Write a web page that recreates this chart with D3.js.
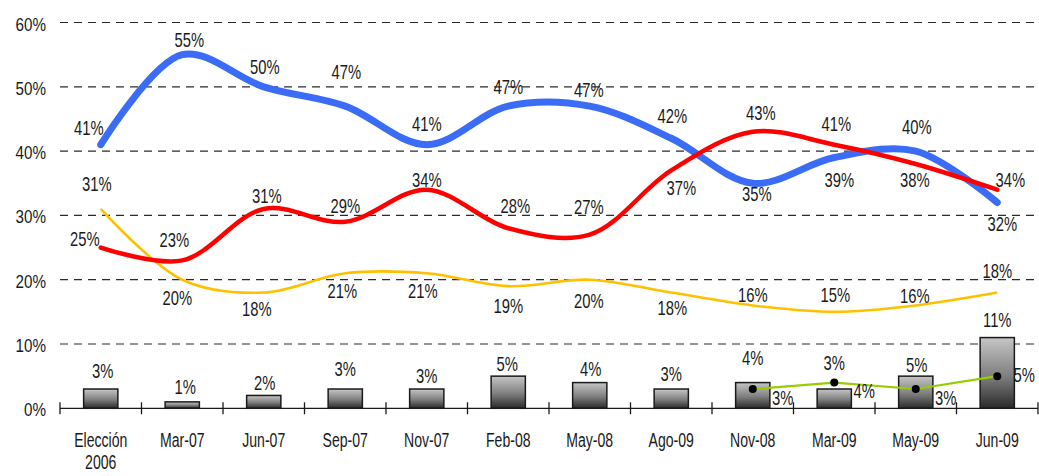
<!DOCTYPE html>
<html>
<head>
<meta charset="utf-8">
<script src="https://cdn.jsdelivr.net/npm/d3@7"></script>
<style>
  html, body { margin: 0; padding: 0; background: #fff; overflow: hidden; }
  text { font-family: "Liberation Sans", Arial, sans-serif; fill: #1a1a1a; }
</style>
</head>
<body>
<svg id="chart" width="1039" height="476"></svg>
<script>
// ---- data ----
const categories = ["Elección 2006", "Mar-07", "Jun-07", "Sep-07", "Nov-07", "Feb-08",
                    "May-08", "Ago-09", "Nov-08", "Mar-09", "May-09", "Jun-09"];
const blueValues   = [41, 55, 50, 47, 41, 47, 47, 42, 35, 39, 40, 32];
const redValues    = [25, 23, 31, 29, 34, 28, 27, 37, 43, 41, 38, 34];
const yellowValues = [31, 20, 18, 21, 21, 19, 20, 18, 16, 15, 16, 18];
const barValues    = [3, 1, 2, 3, 3, 5, 4, 3, 4, 3, 5, 11];
const greenValues  = [null, null, null, null, null, null, null, null, 3, 4, 3, 5];
const yTickValues  = [0, 10, 20, 30, 40, 50, 60];

// ---- label placement (offset of each value label from its point, px) ----
const blueLabelOffsets = [[-12,-17],[7,-15],[1,-20],[1,-34],[0,-21],[0,-19],[-1,-16],[1,-22],[4,11],[5,22],[1,-24],[5,21]];
const redLabelOffsets  = [[-16,-9],[-8,-21],[3,-13],[0,-16],[0,-10],[7,-22],[-1,-28],[10,17],[8,-19],[2,-21],[-1,16],[13,-10]];
const yellowLabelOffsets = [[-4,-25],[-5,18],[-7,16],[-3,18],[-4,18],[0,20],[-1,21],[1,15],[0,-11],[1,-17],[-1,-10],[0,-22]];
const barLabelOffsets  = [[2,-18],[3,-15],[1,-13],[0,-20],[0,-13],[-1,-12],[1,-14],[0,-15],[0,-25],[0,-26],[1,-11],[0,-18]];
const greenLabelOffsets = [null,null,null,null,null,null,null,null,[30,9],[30,8],[30,9],[27,-1]];

const svg = d3.select("#chart");

const x = d3.scaleBand().domain(categories).range([60, 1038]).padding(0);
const y = d3.scaleLinear().domain([0, 60]).range([408.3, 22.5]);
const cx = c => x(c) + x.bandwidth() / 2;
const pct = v => v + "%";

// text drawn with a horizontal squeeze to get the condensed look
function squeezedText(g, px, baseline, txt, size, sx, anchor) {
  const holder = g.append("g").attr("transform", `translate(${px},${baseline})`);
  holder.append("text")
    .attr("transform", `scale(${sx},1)`)
    .attr("text-anchor", anchor || "middle")
    .attr("font-size", size)
    .text(txt);
}
const LABEL_FS = 20, LABEL_SX = 0.74;
function valueLabel(g, px, py, txt) {
  squeezedText(g, px, py + 0.36 * LABEL_FS, txt, LABEL_FS, LABEL_SX, "middle");
}

// ---- gradient for the bars ----
const defs = svg.append("defs");
const grad = defs.append("linearGradient").attr("id", "barFill")
  .attr("x1", 0).attr("y1", 0).attr("x2", 0).attr("y2", 1);
grad.append("stop").attr("offset", "0%").attr("stop-color", "#c6c6c6");
grad.append("stop").attr("offset", "55%").attr("stop-color", "#7e7e7e");
grad.append("stop").attr("offset", "100%").attr("stop-color", "#2a2a2a");

// ---- gridlines ----
const grid = svg.append("g");
grid.selectAll("line").data(yTickValues.filter(v => v > 0)).join("line")
  .attr("x1", 60).attr("x2", 1038)
  .attr("y1", d => y(d)).attr("y2", d => y(d))
  .attr("stroke", "#2b2b2b").attr("stroke-width", 1.2)
  .attr("stroke-dasharray", "8,6");

// ---- y tick labels ----
const yAxisG = svg.append("g");
yTickValues.forEach(v => squeezedText(yAxisG, 46, y(v) + 8, pct(v), 19, 0.8, "end"));

// ---- bars ----
const barW = x.bandwidth() * 0.42;
svg.append("g").selectAll("rect").data(barValues).join("rect")
  .attr("x", (d, i) => cx(categories[i]) - barW / 2)
  .attr("y", d => y(d))
  .attr("width", barW)
  .attr("height", d => y(0) - y(d))
  .attr("fill", "url(#barFill)")
  .attr("stroke", "#1a1a1a").attr("stroke-width", 1.5);

// ---- category axis ----
const xAxisG = svg.append("g");
xAxisG.append("line").attr("x1", 60).attr("x2", 1038).attr("y1", y(0)).attr("y2", y(0))
  .attr("stroke", "#1a1a1a").attr("stroke-width", 1.3);
const boundaries = categories.map(c => x(c)).concat([x.range()[1]]);
xAxisG.selectAll("line.tick").data(boundaries).join("line").attr("class", "tick")
  .attr("x1", d => d).attr("x2", d => d)
  .attr("y1", y(0) - 6).attr("y2", y(0) + 6)
  .attr("stroke", "#1a1a1a").attr("stroke-width", 1.3);
categories.forEach(c => {
  const parts = c.split(" ");
  parts.forEach((p, k) => squeezedText(xAxisG, cx(c), 447 + k * 22, p, 21, 0.67, "middle"));
});

// ---- lines ----
const smooth = d3.line()
  .x((d, i) => cx(categories[i]))
  .y(d => y(d))
  .curve(d3.curveCatmullRom.alpha(0.5));

svg.append("path").datum(yellowValues).attr("d", smooth)
  .attr("fill", "none").attr("stroke", "#ffc000").attr("stroke-width", 2.6)
  .attr("stroke-linejoin", "round");
svg.append("path").datum(blueValues).attr("d", smooth)
  .attr("fill", "none").attr("stroke", "#3b6cf6").attr("stroke-width", 7)
  .attr("stroke-linecap", "round").attr("stroke-linejoin", "round");
svg.append("path").datum(redValues).attr("d", smooth)
  .attr("fill", "none").attr("stroke", "#ff0000").attr("stroke-width", 4.5)
  .attr("stroke-linecap", "round").attr("stroke-linejoin", "round");

const greenPts = greenValues.map((v, i) => ({ v, i })).filter(d => d.v !== null);
const straight = d3.line().x(d => cx(categories[d.i])).y(d => y(d.v));
svg.append("path").datum(greenPts).attr("d", straight)
  .attr("fill", "none").attr("stroke", "#99cc00").attr("stroke-width", 2.2);
svg.append("g").selectAll("circle").data(greenPts).join("circle")
  .attr("cx", d => cx(categories[d.i])).attr("cy", d => y(d.v))
  .attr("r", 4).attr("fill", "#000");

// ---- value labels ----
const labels = svg.append("g");
function labelSeries(values, offsets, baseFn) {
  values.forEach((v, i) => {
    if (v === null || !offsets[i]) return;
    const [dx, dy] = offsets[i];
    valueLabel(labels, cx(categories[i]) + dx, baseFn(v) + dy, pct(v));
  });
}
labelSeries(blueValues, blueLabelOffsets, y);
labelSeries(redValues, redLabelOffsets, y);
labelSeries(yellowValues, yellowLabelOffsets, y);
labelSeries(barValues, barLabelOffsets, y);
labelSeries(greenValues, greenLabelOffsets, y);
</script>
</body>
</html>
